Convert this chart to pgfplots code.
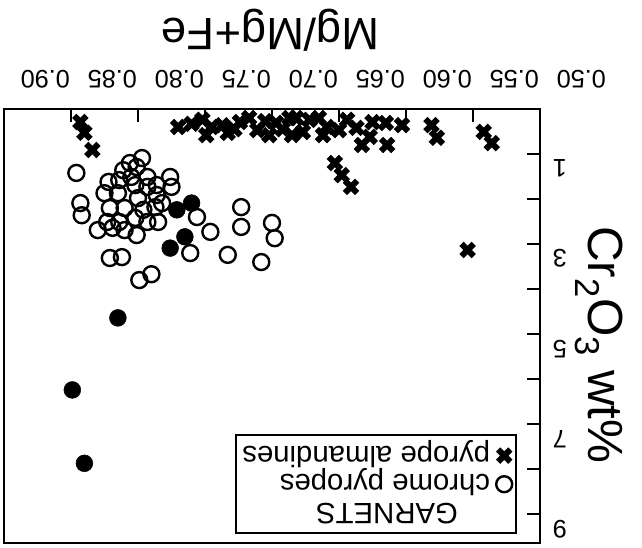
\documentclass[border=0pt]{standalone}
\usepackage{fontspec}
\setmainfont{Liberation Sans}
\usepackage{pgfplots}
\pgfplotsset{compat=1.18}
\begin{document}
\begin{tikzpicture}
\useasboundingbox (-3pt,-3.75pt) rectangle (478.5pt,407.25pt);
\begin{axis}[
  at={(0,0)}, anchor=south west,
  scale only axis, width=402pt, height=325.5pt,
  x dir=reverse, y dir=reverse,
  xmin=0.50, xmax=0.90, ymin=0, ymax=9.64,
  xtick={0.50,0.55,0.60,0.65,0.70,0.75,0.80,0.85,0.90},
  ytick={1,2,3,4,5,6,7,8,9},
  yticklabels={1,{},3,{},5,{},7,{},9},
  xtick pos=upper, ytick pos=upper,
  tick align=inside,
  major tick length=10pt,
  every tick/.style={black, line width=1.5pt},
  axis line style={line width=1.5pt},
  /pgf/number format/assume math mode=true,
  xticklabel style={/pgf/number format/fixed, /pgf/number format/fixed zerofill, /pgf/number format/precision=2,
    font=\fontsize{19}{21}\selectfont, xshift=31pt, yshift=12pt, rotate=180, anchor=north},
  yticklabel style={font=\fontsize{19}{21}\selectfont, xshift=6pt, yshift=-11pt, rotate=180, anchor=east},
  clip=false,
  reverse legend,
  legend plot pos=right,
  legend cell align=left,
  legend style={draw=black, line width=1.5pt, font=\fontsize{22}{23}\selectfont,
    nodes={xshift=3pt, rotate=180, inner xsep=2pt}, row sep=0pt, inner ysep=5pt,
    at={(axis cs:0.517,9.44)}, anchor=south east, fill=white},
]
\addlegendimage{empty legend}
\addlegendentry{\hspace*{1.1em}GARNETS}
\addplot[only marks, mark=o, mark size=6pt, mark options={line width=1.8pt}] coordinates {
(0.797,1.09) (0.846,1.42) (0.811,1.36) (0.801,1.29) (0.806,1.20) (0.822,1.62) (0.814,1.58)
(0.805,1.51) (0.793,1.51) (0.776,1.51) (0.825,1.87) (0.815,1.87) (0.802,1.69) (0.793,1.73)
(0.786,1.69) (0.775,1.73) (0.800,1.98) (0.786,1.91) (0.843,2.09) (0.842,2.36) (0.821,2.20)
(0.810,2.20) (0.796,2.24) (0.787,2.18) (0.782,2.09) (0.823,2.51) (0.814,2.51) (0.802,2.42)
(0.793,2.51) (0.785,2.51) (0.830,2.69) (0.819,2.64) (0.810,2.69) (0.801,2.80) (0.756,2.40)
(0.746,2.73) (0.821,3.31) (0.812,3.29) (0.761,3.20) (0.723,2.18) (0.723,2.62) (0.700,2.53)
(0.698,2.87) (0.733,3.24) (0.708,3.40) (0.799,3.80) (0.790,3.67)
};
\addlegendentry{chrome pyropes}
\addplot[only marks, mark=x, mark size=6.5pt, mark options={line width=4.5pt}] coordinates {
(0.843,0.29) (0.840,0.53) (0.834,0.91) (0.770,0.40) (0.752,0.24) (0.749,0.58) (0.737,0.36)
(0.733,0.53) (0.724,0.29) (0.717,0.20) (0.711,0.47) (0.702,0.58) (0.697,0.31) (0.687,0.20)
(0.685,0.58) (0.682,0.20) (0.677,0.51) (0.672,0.24) (0.665,0.20) (0.662,0.58) (0.659,0.40)
(0.650,0.47) (0.644,0.24) (0.637,0.42) (0.633,0.80) (0.627,0.62) (0.625,0.29) (0.615,0.31)
(0.614,0.80) (0.603,0.36) (0.581,0.36) (0.577,0.64) (0.542,0.51) (0.536,0.76) (0.653,1.20)
(0.648,1.47) (0.641,1.73) (0.554,3.13) (0.705,0.27) (0.692,0.45) (0.728,0.45) (0.745,0.40)
(0.760,0.33)
};
\addlegendentry{pyrope almandines}
\addplot[only marks, mark=*, mark size=6.3pt, forget plot] coordinates {
(0.771,2.24) (0.760,2.09) (0.765,2.84) (0.776,3.09) (0.815,4.64) (0.849,6.24) (0.840,7.87)
};
\node[rotate=180, font=\fontsize{34}{38}\selectfont] at (axis cs:0.701,-1.76) {Mg/Mg+Fe};
\node[rotate=-90, font=\fontsize{37}{40}\selectfont] at (axis cs:0.456,5.24) {Cr\textsubscript{2}O\textsubscript{3} wt\%};
\end{axis}
\end{tikzpicture}
\end{document}
